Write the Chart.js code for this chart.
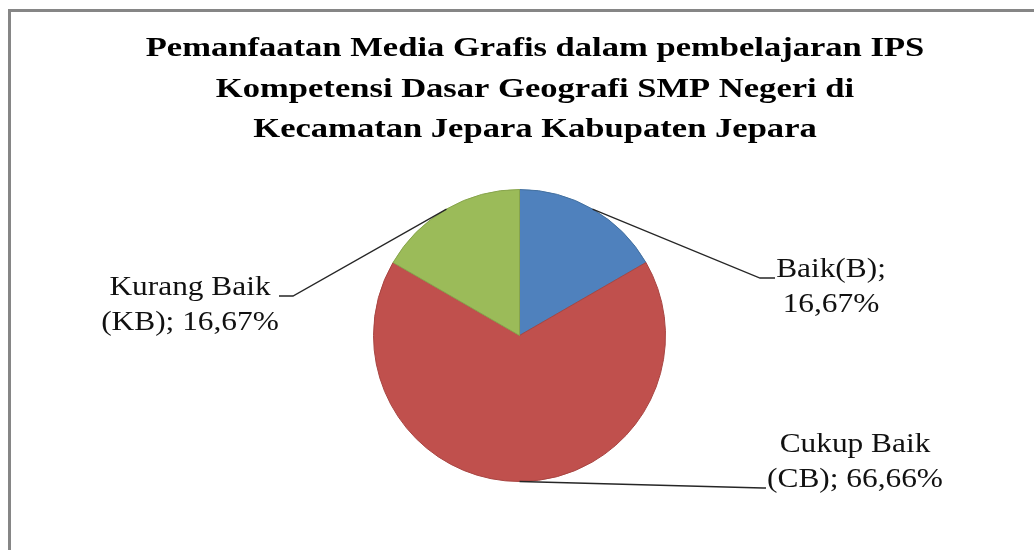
<!DOCTYPE html>
<html>
<head>
<meta charset="utf-8">
<script src="https://cdn.jsdelivr.net/npm/chart.js@4.4.1/dist/chart.umd.min.js"></script>
<style>
  html, body { margin: 0; padding: 0; background: #fff; overflow: hidden; }
  #wrap { position: relative; width: 1034px; height: 550px; }
  #frame { position: absolute; left: 8px; top: 9px; width: 1100px; height: 600px;
           border-top: 3px solid #868686; border-left: 3px solid #868686; }
  canvas { position: absolute; left: 0; top: 0; }
</style>
</head>
<body>
<div id="wrap">
  <div id="frame"></div>
  <canvas id="grafikMedia" width="1034" height="550"></canvas>
</div>
<script>
const judul = [
    'Pemanfaatan Media Grafis dalam pembelajaran IPS',
    'Kompetensi Dasar Geografi SMP Negeri di',
    'Kecamatan Jepara Kabupaten Jepara'
];
const kategori = ['Baik(B)', 'Cukup Baik (CB)', 'Kurang Baik (KB)'];
const persentase = [16.67, 66.66, 16.67];
const barisPertama = ['Baik(B);', 'Cukup Baik', 'Kurang Baik'];
const awalanKedua = ['', '(CB); ', '(KB); '];
const warna = ['#4F81BD', '#C0504D', '#9BBB59'];
const warnaTepi = ['#43709f', '#a84542', '#87a44c'];

// posisi label dan garis penunjuk (piksel)
const posisiLabel = [
    { x: 831, y: 277, siku: [760, 278], ujung: [775, 278] },
    { x: 855, y: 452, siku: [763, 488], ujung: [766, 488] },
    { x: 190, y: 295, siku: [293, 296], ujung: [279, 296] }
];

function teksMelebar(ctx, teks, x, y, skala) {
    ctx.save();
    ctx.translate(x, y);
    ctx.scale(skala, 1);
    ctx.fillText(teks, 0, 0);
    ctx.restore();
}

const pluginJudul = {
    id: 'judulMelebar',
    afterDraw(chart) {
        const ctx = chart.ctx;
        ctx.save();
        ctx.fillStyle = '#000';
        ctx.font = 'bold 27px "Liberation Serif", "Times New Roman", serif';
        ctx.textAlign = 'center';
        ctx.textBaseline = 'alphabetic';
        judul.forEach(function(baris, i) {
            teksMelebar(ctx, baris, 535, 56 + i * 40.5, 1.28);
        });
        ctx.restore();
    }
};

const pluginLabel = {
    id: 'labelPenunjuk',
    afterDatasetsDraw(chart) {
        const ctx = chart.ctx;
        const meta = chart.getDatasetMeta(0);
        ctx.save();
        meta.data.forEach(function(arc, i) {
            const p = arc.getProps(['x', 'y', 'startAngle', 'endAngle', 'outerRadius'], true);
            const tengah = (p.startAngle + p.endAngle) / 2;
            const ax = p.x + Math.cos(tengah) * p.outerRadius;
            const ay = p.y + Math.sin(tengah) * p.outerRadius;
            const pos = posisiLabel[i];

            ctx.strokeStyle = '#262626';
            ctx.lineWidth = 1.3;
            ctx.beginPath();
            ctx.moveTo(ax, ay);
            ctx.lineTo(pos.siku[0], pos.siku[1]);
            ctx.lineTo(pos.ujung[0], pos.ujung[1]);
            ctx.stroke();

            ctx.fillStyle = '#111';
            ctx.font = '28px "Liberation Serif", "Times New Roman", serif';
            ctx.textAlign = 'center';
            ctx.textBaseline = 'alphabetic';
            const nilai = persentase[i].toFixed(2).replace('.', ',') + '%';
            teksMelebar(ctx, barisPertama[i], pos.x, pos.y, 1.12);
            teksMelebar(ctx, awalanKedua[i] + nilai, pos.x, pos.y + 35, 1.12);
        });
        ctx.restore();
    }
};

const ctx = document.getElementById('grafikMedia');

const chart = new Chart(ctx, {
    type: 'pie',
    data: {
        labels: kategori,
        datasets: [
            {
                data: persentase,
                backgroundColor: warna,
                borderColor: warnaTepi,
                borderWidth: 1
            }
        ]
    },
    options: {
        responsive: false,
        animation: false,
        layout: {
            padding: { top: 189, bottom: 68, left: 200, right: 195 }
        },
        plugins: {
            legend: { display: false },
            title: { display: false },
            tooltip: { enabled: false }
        }
    },
    plugins: [pluginJudul, pluginLabel]
});
</script>
</body>
</html>
